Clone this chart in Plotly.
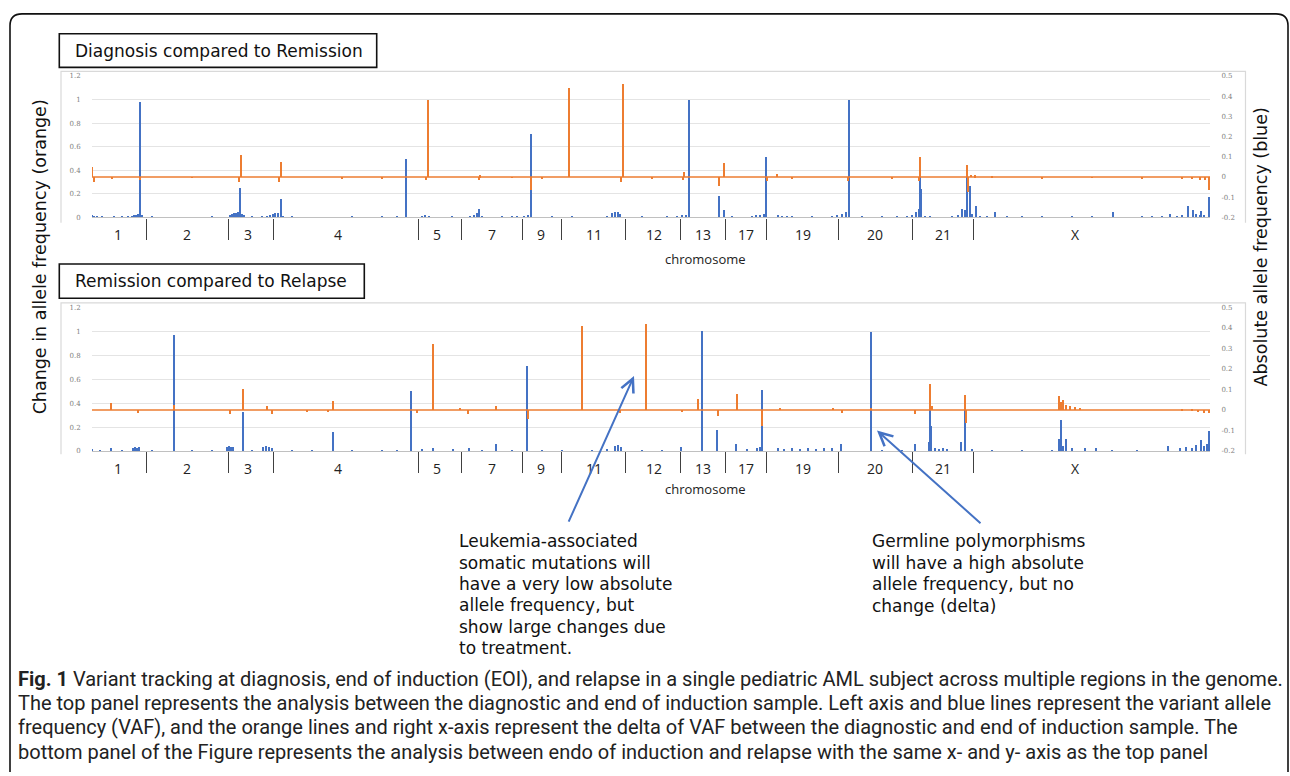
import plotly.graph_objects as go

W, H = 1290, 776
BLUE = "#4472C4"
ORANGE = "#ED7D31"

# ---------------- data (position index along the genome strip) ----------------
genome_len = 1118
chrom_labels = ["1", "2", "3", "4", "5", "7", "9", "11", "12", "13", "17", "19", "20", "21", "X"]
chrom_label_pos = [26, 95, 156, 246, 345, 400, 449, 502, 562, 611, 654, 711, 783, 851, 983]
chrom_bounds = [54.7, 136.7, 181.3, 326.3, 369.7, 430.7, 469.7, 533, 588.7, 633.7, 674, 746.3, 820.7, 881]

left_ticks = [0, 0.2, 0.4, 0.6, 0.8, 1.0, 1.2]
left_ticktext = ["0", "0.2", "0.4", "0.6", "0.8", "1", "1.2"]
right_ticks = [-0.2, -0.1, 0, 0.1, 0.2, 0.3, 0.4, 0.5]
right_ticktext = ["-0.2", "-0.1", "0", "0.1", "0.2", "0.3", "0.4", "0.5"]

# Top panel: Diagnosis compared to Remission
top_blue_pos = [0, 2, 5, 10, 22, 30, 36, 40, 42, 44, 46, 48, 50, 60, 80, 100, 120, 138, 140, 142, 144,
                146, 148.7, 150, 152, 160, 170, 175, 178, 181, 183, 186, 189, 191, 200, 230, 260, 290,
                305, 314.7, 330, 333, 337, 360, 378, 382, 385, 387.3, 390, 410, 420, 425, 432, 436, 439,
                460, 480, 500, 515, 520, 523, 526, 528, 550, 575, 585, 590, 594, 597, 627.3, 632.3, 640,
                660, 664, 668, 672, 674.7, 686, 690, 695, 700, 720, 740, 745, 750, 754, 757.3, 770, 790,
                805, 815, 820, 824, 827, 828, 829.7, 833, 838, 860, 866, 870.3, 873, 875.7, 878.7, 880,
                884.7, 888, 895, 903, 915, 930, 950, 980, 1000, 1021.3, 1030, 1050, 1060, 1070, 1078,
                1085, 1090, 1096.3, 1101.3, 1104, 1108, 1109.7, 1112, 1117]
top_blue_vaf = [0.02, 0.015, 0.01, 0.005, 0.005, 0.008, 0.01, 0.015, 0.02, 0.025, 0.03, 0.976, 0.02,
                0.005, 0.004, 0.004, 0.005, 0.02, 0.03, 0.04, 0.035, 0.045, 0.25, 0.03, 0.02, 0.005,
                0.01, 0.015, 0.02, 0.03, 0.04, 0.035, 0.16, 0.015, 0.005, 0.004, 0.005, 0.005, 0.005,
                0.50, 0.015, 0.02, 0.015, 0.005, 0.01, 0.02, 0.035, 0.07, 0.005, 0.005, 0.01, 0.005,
                0.01, 0.02, 0.71, 0.006, 0.005, 0.004, 0.01, 0.04, 0.045, 0.05, 0.03, 0.005, 0.005,
                0.01, 0.02, 0.025, 1.0, 0.18, 0.067, 0.005, 0.01, 0.02, 0.025, 0.03, 0.51, 0.02,
                0.015, 0.012, 0.01, 0.005, 0.015, 0.02, 0.03, 0.05, 1.0, 0.005, 0.005, 0.008, 0.015,
                0.02, 0.05, 0.075, 0.34, 0.24, 0.01, 0.01, 0.01, 0.02, 0.075, 0.06, 0.445, 0.27, 0.03,
                0.10, 0.015, 0.01, 0.048, 0.01, 0.005, 0.005, 0.005, 0.005, 0.048, 0.004, 0.005,
                0.005, 0.01, 0.03, 0.015, 0.02, 0.095, 0.06, 0.03, 0.02, 0.054, 0.02, 0.17]
top_delta_pos = [0.5, 2, 20, 48, 100, 147, 148.7, 187.5, 189, 250, 290, 334, 335.7, 387, 388, 420, 439,
                 450, 477.3, 529.5, 530.7, 560, 591, 592, 627, 632.3, 674.7, 684.7, 700, 756.3, 800,
                 827, 828, 875.3, 876, 879, 883, 900, 950, 1000, 1050, 1090, 1100, 1108, 1113, 1117]
top_delta = [0.048, -0.025, -0.005, -0.015, -0.004, -0.025, 0.108, -0.025, 0.075, -0.005, -0.006,
             -0.015, 0.379, -0.015, 0.008, -0.004, -0.066, -0.005, 0.443, -0.025, 0.459, -0.005,
             -0.012, 0.027, -0.042, 0.069, -0.017, 0.017, -0.006, -0.017, -0.006, -0.02, 0.097,
             0.059, -0.074, 0.012, 0.008, 0.006, -0.005, -0.004, -0.006, -0.008, -0.01, -0.012,
             -0.014, -0.066]

# Bottom panel: Remission compared to Relapse
bot_blue_pos = [0, 8, 19, 30, 41, 43, 45, 47, 60, 82.3, 100, 120, 135, 137, 139, 141, 151.7, 160,
                171, 174, 177, 180, 200, 220, 241.3, 260, 290, 305, 319, 330, 341, 361, 377, 390,
                404, 420, 435.7, 450, 470, 500, 515, 523, 526, 529, 550, 570, 589.7, 610.3, 625.7,
                644.7, 655, 665, 668, 670.3, 686, 692, 700, 708, 716, 724, 732, 740, 749, 779, 790,
                810, 823, 837, 838, 839, 843, 847, 851, 855, 869.7, 873, 880, 900, 930, 960, 967.3,
                969.7, 971, 974.7, 980, 993, 1004.7, 1020, 1045, 1076.3, 1088, 1094, 1100, 1104,
                1109.7, 1112, 1115, 1117]
bot_blue_vaf = [0.006, 0.005, 0.02, 0.005, 0.02, 0.03, 0.025, 0.03, 0.004, 0.97, 0.004, 0.005,
                0.03, 0.04, 0.035, 0.03, 0.325, 0.005, 0.03, 0.04, 0.035, 0.02, 0.005, 0.005, 0.16,
                0.004, 0.005, 0.005, 0.50, 0.01, 0.02, 0.01, 0.02, 0.005, 0.06, 0.005, 0.71, 0.004,
                0.005, 0.005, 0.01, 0.04, 0.05, 0.03, 0.005, 0.005, 0.03, 0.998, 0.17, 0.06, 0.01,
                0.02, 0.03, 0.51, 0.02, 0.015, 0.02, 0.015, 0.02, 0.015, 0.02, 0.02, 0.055, 0.99,
                0.005, 0.005, 0.055, 0.075, 0.336, 0.21, 0.02, 0.015, 0.02, 0.01, 0.075, 0.45,
                0.01, 0.005, 0.005, 0.005, 0.10, 0.26, 0.04, 0.097, 0.02, 0.02, 0.02, 0.005, 0.005,
                0.04, 0.02, 0.03, 0.025, 0.05, 0.088, 0.04, 0.06, 0.165]
bot_delta_pos = [19, 46.3, 82, 138, 151.3, 174.7, 179.7, 214.7, 236.3, 241.3, 324.7, 341.3, 368,
                 376.3, 404, 435.7, 490, 528, 554, 590.3, 606.3, 625.7, 644.7, 670.3, 688, 741.3,
                 749.7, 779, 823, 838, 840, 873, 874, 967.3, 969, 971, 974, 978, 983, 988, 1090,
                 1100, 1106, 1112, 1117]
bot_delta = [0.033, -0.018, 0.022, -0.023, 0.10, 0.017, -0.023, -0.01, -0.01, 0.041, -0.018, 0.318,
             0.01, -0.02, 0.02, -0.047, 0.406, -0.018, 0.416, -0.01, 0.054, -0.031, 0.077, -0.08,
             0.01, 0.01, -0.015, 0.01, -0.023, 0.125, 0.02, 0.073, -0.063, 0.068, 0.035, 0.045,
             0.025, 0.02, 0.015, 0.01, -0.005, -0.008, -0.01, -0.014, -0.018]

panel_titles = ["Diagnosis compared to Remission", "Remission compared to Relapse"]
left_title = "Change in allele frequency (orange)"
right_title = "Absolute allele frequency (blue)"
note_somatic = ["Leukemia-associated", "somatic mutations will", "have a very low absolute",
                "allele frequency, but", "show large changes due", "to treatment."]
note_germline = ["Germline polymorphisms", "will have a high absolute",
                 "allele frequency, but no", "change (delta)"]
caption_lines = [
    "<b>Fig. 1</b> Variant tracking at diagnosis, end of induction (EOI), and relapse in a single pediatric AML subject across multiple regions in the genome.",
    "The top panel represents the analysis between the diagnostic and end of induction sample. Left axis and blue lines represent the variant allele",
    "frequency (VAF), and the orange lines and right x-axis represent the delta of VAF between the diagnostic and end of induction sample. The",
    "bottom panel of the Figure represents the analysis between endo of induction and relapse with the same x- and y- axis as the top panel",
]


# ---------------- helpers ----------------
def px(x):
    return x / W


def py(y):
    return 1 - y / H


X_DOM = [px(92), px(1210)]
DOMS = [[py(215.7), py(72.7)], [py(451.7), py(306.5)]]

fig = go.Figure()

panels = [
    (top_blue_pos, top_blue_vaf, top_delta_pos, top_delta),
    (bot_blue_pos, bot_blue_vaf, bot_delta_pos, bot_delta),
]
layout_axes = {}
for i, (bp, bv, dp, dv) in enumerate(panels):
    xa = "x" if i == 0 else "x2"
    ya = "y" if i == 0 else "y3"
    ya2 = "y2" if i == 0 else "y4"
    fig.add_trace(go.Bar(x=bp, y=bv, xaxis=xa, yaxis=ya, width=1.5,
                         marker=dict(color=BLUE, line=dict(width=0)), showlegend=False))
    fig.add_trace(go.Scatter(x=[0, genome_len], y=[0, 0], xaxis=xa, yaxis=ya2, mode="lines",
                             line=dict(color=ORANGE, width=1.5), showlegend=False))
    fig.add_trace(go.Bar(x=dp, y=dv, base=0, xaxis=xa, yaxis=ya2, width=1.4,
                         marker=dict(color=ORANGE, line=dict(width=0)), showlegend=False))

    xname = "xaxis" if i == 0 else "xaxis2"
    yname = "yaxis" if i == 0 else "yaxis3"
    y2name = "yaxis2" if i == 0 else "yaxis4"
    layout_axes[xname] = dict(
        domain=X_DOM, range=[0, genome_len], anchor=ya, fixedrange=True,
        tickmode="array", tickvals=chrom_label_pos, ticktext=chrom_labels,
        ticks="outside", ticklen=5, tickcolor="rgba(0,0,0,0)",
        minor=dict(tickmode="array", tickvals=chrom_bounds, ticks="outside", ticklen=21,
                   tickcolor="#404040", tickwidth=1.3, showgrid=False),
        showline=True, linecolor="#c0c0c0", linewidth=1.3, showgrid=False, zeroline=False,
        tickfont=dict(size=14, family="Open Sans", color="#222222"),
    )
    layout_axes[yname] = dict(
        domain=DOMS[i], range=[0, 1.2], anchor=xa, fixedrange=True,
        tickmode="array", tickvals=left_ticks, ticktext=left_ticktext,
        showgrid=True, gridcolor="#e4e4e4", gridwidth=1.2, zeroline=False, showline=False,
        ticks="outside", ticklen=9, tickcolor="rgba(0,0,0,0)",
        tickfont=dict(size=7, color="#808080", family="DejaVu Serif"),
    )
    layout_axes[y2name] = dict(
        overlaying=ya, side="right", anchor=xa, range=[-0.2, 0.5], fixedrange=True,
        tickmode="array", tickvals=right_ticks, ticktext=right_ticktext,
        showgrid=False, zeroline=False, showline=False,
        ticks="outside", ticklen=9, tickcolor="rgba(0,0,0,0)",
        tickfont=dict(size=7, color="#808080", family="DejaVu Serif"),
    )

shapes = []
# outer rounded frame
shapes.append(dict(
    type="path", xref="paper", yref="paper",
    path=(f"M {px(10)},{py(776)} L {px(10)},{py(22)} Q {px(10)},{py(10)} {px(22)},{py(10)} "
          f"L {px(1276)},{py(10)} Q {px(1288)},{py(10)} {px(1288)},{py(22)} L {px(1288)},{py(776)}"),
    line=dict(color="#111111", width=1.6)))
# chart-area outlines
for top, bot in [(68, 221), (302, 455)]:
    shapes.append(dict(
        type="path", xref="paper", yref="paper",
        path=f"M {px(61)},{py(bot)} L {px(61)},{py(top)} L {px(1245.5)},{py(top)} L {px(1245.5)},{py(bot)}",
        line=dict(color="#d9d9d9", width=1.2)))
# title boxes
for (x0, x1, y0, y1) in [(59.3, 376.7, 30, 64), (59.3, 364.3, 262.7, 297.3)]:
    shapes.append(dict(type="rect", xref="paper", yref="paper",
                       x0=px(x0), x1=px(x1), y0=py(y1), y1=py(y0),
                       line=dict(color="#111111", width=1.6), fillcolor="white", layer="below"))

annotations = []
TXT = "DejaVu Sans"
for t, (x, y) in zip(panel_titles, [(73, 47.5), (72.7, 280)]):
    annotations.append(dict(text=t, x=px(x), y=py(y), xref="paper", yref="paper",
                            xanchor="left", yanchor="middle", showarrow=False,
                            font=dict(family=TXT, size=17, color="#111111")))
for y in [258, 490]:
    annotations.append(dict(text="chromosome", x=px(705), y=py(y), xref="paper", yref="paper",
                            xanchor="center", yanchor="middle", showarrow=False,
                            font=dict(family="Open Sans", size=13, color="#222222")))
annotations.append(dict(text=left_title, x=px(40), y=py(256), xref="paper", yref="paper",
                        xanchor="center", yanchor="middle", textangle=-90, showarrow=False,
                        font=dict(family=TXT, size=17.5, color="#111111")))
annotations.append(dict(text=right_title, x=px(1261), y=py(246), xref="paper", yref="paper",
                        xanchor="center", yanchor="middle", textangle=-90, showarrow=False,
                        font=dict(family=TXT, size=17.5, color="#111111")))
for k, line in enumerate(note_somatic):
    annotations.append(dict(text=line, x=px(457), y=py(543 + 21.5 * k), xref="paper", yref="paper",
                            xanchor="left", yanchor="middle", showarrow=False,
                            font=dict(family=TXT, size=17, color="#111111")))
for k, line in enumerate(note_germline):
    annotations.append(dict(text=line, x=px(870), y=py(543 + 21.7 * k), xref="paper", yref="paper",
                            xanchor="left", yanchor="middle", showarrow=False,
                            font=dict(family=TXT, size=17, color="#111111")))
# arrows
annotations.append(dict(text="", x=px(634), y=py(376), xref="paper", yref="paper",
                        ax=-66, ay=147, showarrow=True, arrowhead=5, arrowsize=1.3,
                        arrowwidth=2, arrowcolor=BLUE, standoff=0))
annotations.append(dict(text="", x=px(877), y=py(431), xref="paper", yref="paper",
                        ax=105, ay=94, showarrow=True, arrowhead=5, arrowsize=1.3,
                        arrowwidth=2, arrowcolor=BLUE, standoff=0))
# caption
for k, line in enumerate(caption_lines):
    annotations.append(dict(text=line, x=px(16), y=py(682 + 24.5 * k), xref="paper", yref="paper",
                            xanchor="left", yanchor="middle", showarrow=False,
                            font=dict(family="Roboto", size=20, color="#222222")))

fig.update_layout(
    width=W, height=H, margin=dict(l=0, r=0, t=0, b=0),
    paper_bgcolor="white", plot_bgcolor="white",
    barmode="overlay", bargap=0, showlegend=False,
    shapes=shapes, annotations=annotations,
    **layout_axes,
)

fig.write_html("out.html", config={"displayModeBar": False},
               post_script="document.body.style.margin='0';document.body.style.overflow='hidden';")
